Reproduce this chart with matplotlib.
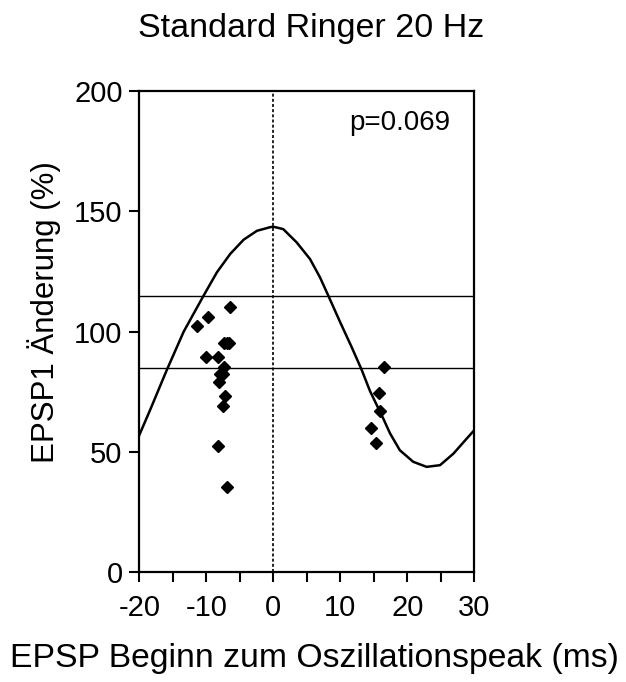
import numpy as np
import matplotlib.pyplot as plt

plt.rcParams["font.family"] = ["Liberation Sans", "DejaVu Sans"]
plt.rcParams["axes.unicode_minus"] = False

# fitted oscillation curve (ms, % change)
curve_t = [-20, -18.36, -15.87, -13.37, -10.39, -8.4, -6.42, -4.42, -2.43,
           -0.45, 0, 1.49, 3.49, 5.48, 6.97, 8.21, 9.96, 11.7, 13.19, 14.43,
           16.42, 17.42, 18.9, 20.9, 22.9, 24.9, 26.9, 28.9, 30]
curve_v = [57, 67.6, 84.2, 100.0, 115, 124.7, 132.3, 138.2, 141.9,
           143.4, 143.6, 142.6, 137.1, 130.2, 122.6, 115, 104.1, 93.6, 84.2,
           75.4, 63.9, 57.8, 50.7, 45.9, 43.8, 44.5, 49.3, 55.6, 59]

# single EPSP1 measurements
epsp_t = [-11.44, -9.8, -6.47, -7.31, -6.97, -6.6, -10.05, -8.21, -7.31,
          -7.96, -7.46, -8.16, -7.21, -7.46, -8.31, -6.87,
          16.57, 15.77, 15.92, 14.58, 15.27]
epsp_v = [102.4, 106.2, 110.2, 95.2, 95.2, 95.2, 89.3, 89.3, 85.5,
          82.4, 82.4, 79.2, 73.3, 69.1, 52.5, 35.6,
          85.5, 74.7, 67.0, 60.1, 53.9]

band_lo, band_hi = 85, 115
p_text = "p=0.069"

fig = plt.figure(figsize=(6.26, 6.82), dpi=100)
ax = fig.add_axes([0.2225, 0.1609, 0.535, 0.7057])

ax.axhline(band_hi, color="black", lw=1.0)
ax.axhline(band_lo, color="black", lw=1.0)
ax.axvline(0, color="black", lw=1.2, ls=(0, (1.8, 1.3)))
ax.plot(curve_t, curve_v, color="black", lw=1.8)
ax.plot(epsp_t, epsp_v, ls="none", marker="D", ms=6, color="black")

ax.set_xlim(-20, 30)
ax.set_ylim(0, 200)
ax.set_xticks(np.arange(-20, 31, 10))
ax.set_xticks(np.arange(-15, 31, 10), minor=True)
ax.set_yticks(np.arange(0, 201, 50))
ax.tick_params(which="both", direction="out", length=7, width=1.5,
               labelsize=21, top=False, right=False)
ax.tick_params(axis="x", pad=8.5)
ax.tick_params(axis="y", pad=5)
for s in ax.spines.values():
    s.set_linewidth(1.6)

ax.text(0.9275, 0.919, p_text, transform=ax.transAxes, ha="right",
        va="baseline", fontsize=20)

fig.text(0.497, 0.9457, "Standard Ringer 20 Hz", ha="center", va="baseline",
         fontsize=24.5)
fig.text(0.503, 0.022, "EPSP Beginn zum Oszillationspeak (ms)", ha="center",
         va="baseline", fontsize=24.3)
fig.text(0.071, 0.542, "EPSP1 Änderung (%)", rotation=90, ha="center",
         va="center", fontsize=22.5)

fig.savefig("out.png", dpi=100)
